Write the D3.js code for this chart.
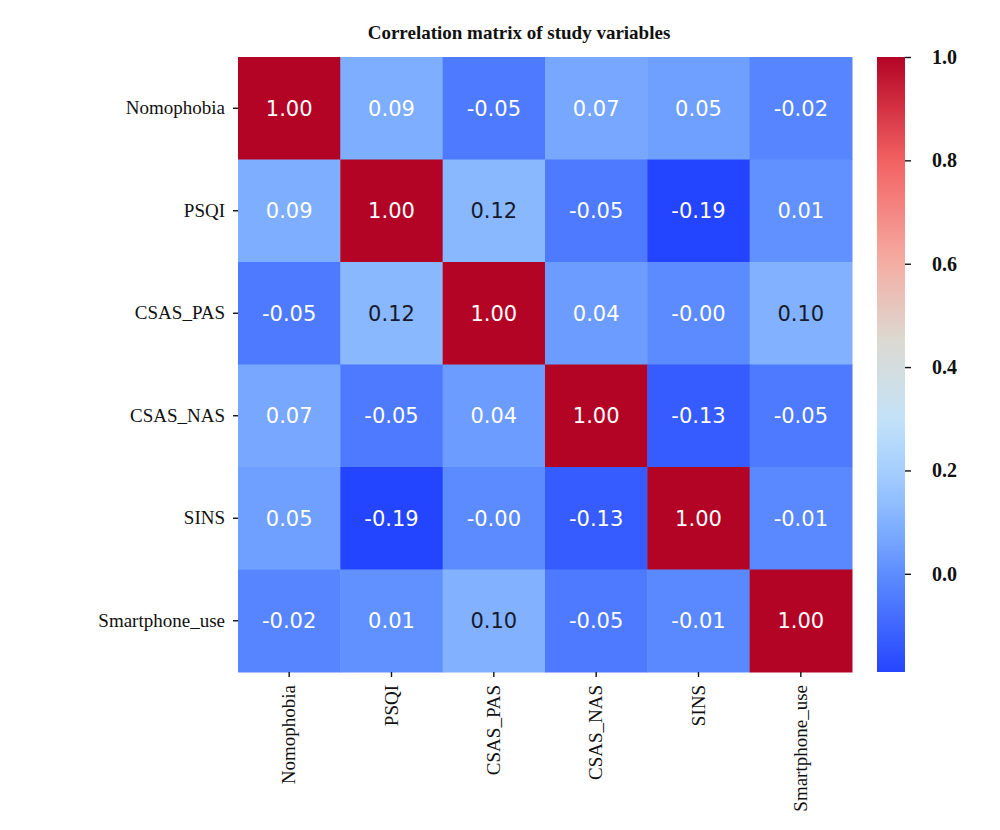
<!DOCTYPE html>
<html>
<head>
<meta charset="utf-8">
<script src="https://cdn.jsdelivr.net/npm/d3@7"></script>
<style>
  body { margin: 0; background: #fff; }
  .lbl { font-family: "Liberation Serif", serif; fill: #111; }
  .cell-text { font-family: "DejaVu Sans", sans-serif; }
</style>
</head>
<body>
<svg id="chart" width="1000" height="830"></svg>
<script>
// 변수 이름 (행/열 동일)
const variables = ['Nomophobia', 'PSQI', 'CSAS_PAS', 'CSAS_NAS', 'SINS', 'Smartphone_use'];

// 상관계수 행렬 (행 순서 = variables)
const rowNomophobia = [1.00, 0.09, -0.05, 0.07, 0.05, -0.02];
const rowPSQI       = [0.09, 1.00, 0.12, -0.05, -0.19, 0.01];
const rowCsasPas    = [-0.05, 0.12, 1.00, 0.04, -0.004, 0.10];
const rowCsasNas    = [0.07, -0.05, 0.04, 1.00, -0.13, -0.05];
const rowSins       = [0.05, -0.19, -0.004, -0.13, 1.00, -0.01];
const rowSmartphone = [-0.02, 0.01, 0.10, -0.05, -0.01, 1.00];
const matrix = [rowNomophobia, rowPSQI, rowCsasPas, rowCsasNas, rowSins, rowSmartphone];

// 컬러바 눈금
const colorbarTicks = [0.0, 0.2, 0.4, 0.6, 0.8, 1.0];

// 색상 스케일 정지점
const colorStops = [-0.19, 0, 0.1, 0.2, 0.3, 0.45, 0.6, 0.8, 1.0];
const colorValues = ['#2445ff', '#5d8dff', '#82b2ff', '#a6cfff', '#c3e2f8', '#dcdad2', '#f5aea4', '#f36161', '#b40426'];

const svg = d3.select('#chart');

// 히트맵 영역
const plotLeft = 238, plotRight = 852, plotTop = 57, plotBottom = 672;

const x = d3.scaleBand().domain(variables).range([plotLeft, plotRight]);
const y = d3.scaleBand().domain(variables).range([plotTop, plotBottom]);
const color = d3.scaleLinear().domain(colorStops).range(colorValues).clamp(true);

// 숫자 표시 형식: 음수는 하이픈으로
function fmt(v) {
    return (v < 0 ? '-' : '') + Math.abs(v).toFixed(2);
}

// 배경 밝기에 따라 글자색 결정
function textColor(v) {
    const c = d3.rgb(color(v));
    const lin = ch => { const s = ch / 255; return s <= 0.03928 ? s / 12.92 : Math.pow((s + 0.055) / 1.055, 2.4); };
    const lum = 0.2126 * lin(c.r) + 0.7152 * lin(c.g) + 0.0722 * lin(c.b);
    return lum > 0.428 ? '#161a2c' : '#ffffff';
}

const cells = [];
matrix.forEach((row, i) => {
    row.forEach((v, j) => {
        cells.push({ row: variables[i], col: variables[j], value: v });
    });
});

const g = svg.append('g');

g.selectAll('rect.cell')
    .data(cells)
    .join('rect')
    .attr('class', 'cell')
    .attr('x', d => x(d.col))
    .attr('y', d => y(d.row))
    .attr('width', x.bandwidth() + 0.5)
    .attr('height', y.bandwidth() + 0.5)
    .attr('fill', d => color(d.value));

g.selectAll('text.cell-text')
    .data(cells)
    .join('text')
    .attr('class', 'cell-text')
    .attr('x', d => x(d.col) + x.bandwidth() / 2)
    .attr('y', d => y(d.row) + y.bandwidth() / 2)
    .attr('dy', '0.36em')
    .attr('text-anchor', 'middle')
    .attr('font-size', 21)
    .attr('fill', d => textColor(d.value))
    .text(d => fmt(d.value));

// 왼쪽 축
const yAxis = svg.append('g')
    .attr('transform', `translate(${plotLeft},0)`)
    .call(d3.axisLeft(y).tickSize(5).tickPadding(8));
yAxis.select('.domain').remove();
yAxis.selectAll('line').attr('stroke', '#111').attr('stroke-width', 1.4);
yAxis.selectAll('text')
    .attr('class', 'lbl')
    .attr('font-size', 19)
    .attr('fill', '#111');

// 아래 축 (세로 라벨)
const xAxis = svg.append('g')
    .attr('transform', `translate(0,${plotBottom})`)
    .call(d3.axisBottom(x).tickSize(5));
xAxis.select('.domain').remove();
xAxis.selectAll('line').attr('stroke', '#111').attr('stroke-width', 1.4);
xAxis.selectAll('text')
    .attr('class', 'lbl')
    .attr('font-size', 19)
    .attr('fill', '#111')
    .attr('transform', 'rotate(-90)')
    .attr('text-anchor', 'end')
    .attr('x', -13)
    .attr('y', 0)
    .attr('dy', '0.33em');

// 제목 (그림 전체 기준 가운데)
svg.append('text')
    .attr('class', 'lbl')
    .attr('x', 519)
    .attr('y', 39)
    .attr('text-anchor', 'middle')
    .attr('font-size', 19)
    .attr('font-weight', 'bold')
    .text('Correlation matrix of study variables');

// 컬러바
const cbLeft = 877, cbWidth = 28;
const cbScale = d3.scaleLinear().domain([colorStops[0], 1.0]).range([plotBottom, plotTop]);

const defs = svg.append('defs');
const grad = defs.append('linearGradient')
    .attr('id', 'cbGrad')
    .attr('x1', 0).attr('y1', 1).attr('x2', 0).attr('y2', 0);
const gradSamples = d3.range(0, 1.0001, 0.02);
grad.selectAll('stop')
    .data(gradSamples)
    .join('stop')
    .attr('offset', t => t)
    .attr('stop-color', t => color(colorStops[0] + t * (1.0 - colorStops[0])));

svg.append('rect')
    .attr('x', cbLeft)
    .attr('y', plotTop)
    .attr('width', cbWidth)
    .attr('height', plotBottom - plotTop)
    .attr('fill', 'url(#cbGrad)');

const cbAxis = svg.append('g')
    .attr('transform', `translate(${cbLeft + cbWidth},0)`)
    .call(d3.axisRight(cbScale).tickValues(colorbarTicks).tickFormat(d3.format('.1f')).tickSize(6).tickPadding(21));
cbAxis.select('.domain').remove();
cbAxis.selectAll('line').attr('stroke', '#111').attr('stroke-width', 1.4);
cbAxis.selectAll('text')
    .attr('class', 'lbl')
    .attr('font-size', 20)
    .attr('font-weight', 'bold')
    .attr('fill', '#111');
</script>
</body>
</html>
